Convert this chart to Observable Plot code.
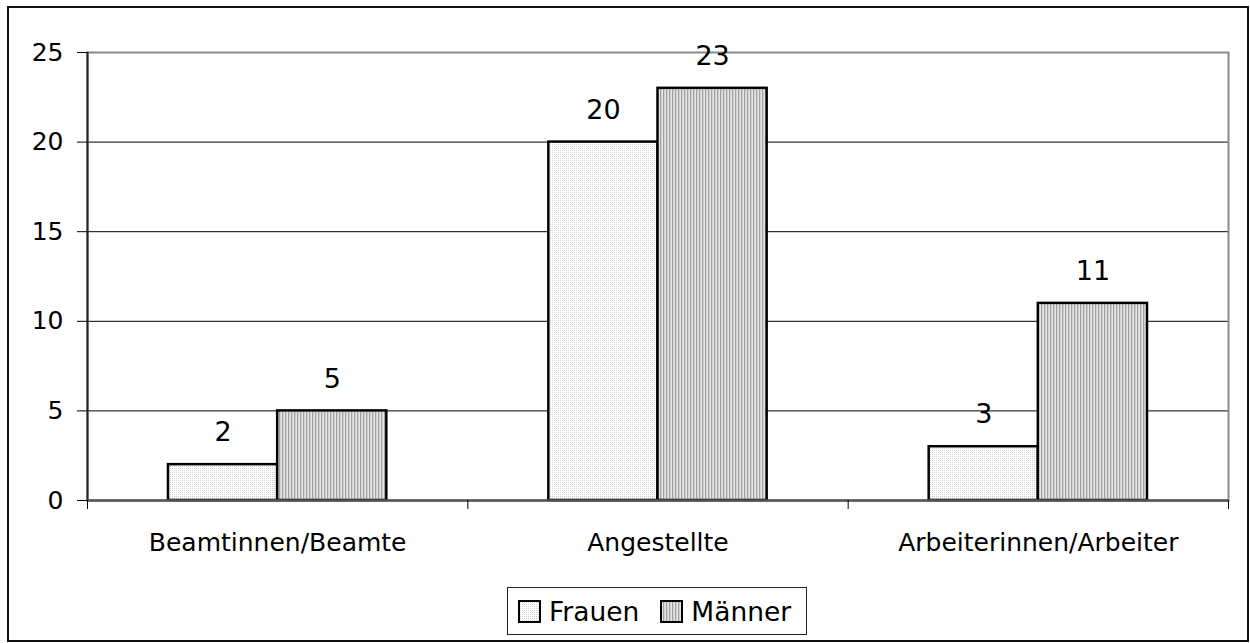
<!DOCTYPE html>
<html>
<head>
<meta charset="utf-8">
<script src="https://cdn.jsdelivr.net/npm/d3@7"></script>
<script src="https://cdn.jsdelivr.net/npm/@observablehq/plot@0.6"></script>
<style>
  html, body { margin: 0; padding: 0; background: #fff; }
  #chart { position: relative; width: 1250px; height: 643px; font-family: "DejaVu Sans", Verdana, sans-serif; color: #000; }
  #outer { position: absolute; left: 7px; top: 6px; width: 1242px; height: 636px; border: 2px solid #111; box-sizing: border-box; pointer-events: none; }
  #legend { position: absolute; left: 507px; top: 587px; width: 300px; height: 48px; border: 1.5px solid #222; box-sizing: border-box;
            display: flex; align-items: center; padding-left: 10px; font-size: 26.5px; background: #fff; }
  #legend .item { display: flex; align-items: center; }
  #legend .item + .item { margin-left: 21px; }
  #legend svg { margin-right: 8px; display: block; }
</style>
</head>
<body>
<svg width="0" height="0" style="position:absolute">
  <defs>
    <pattern id="pat-frauen" patternUnits="userSpaceOnUse" width="2" height="2">
      <rect width="2" height="2" fill="#ffffff"></rect>
      <rect width="1" height="1" fill="#d2d2d2"></rect>
    </pattern>
    <pattern id="pat-maenner" patternUnits="userSpaceOnUse" width="3" height="3">
      <rect width="3" height="3" fill="#e6e6e6"></rect>
      <rect width="1.3" height="3" fill="#a0a0a0"></rect>
    </pattern>
  </defs>
</svg>
<div id="chart"></div>
<script>
// Beschäftigte nach Dienstverhältnis und Geschlecht
const categories = ["Beamtinnen/Beamte", "Angestellte", "Arbeiterinnen/Arbeiter"];
const seriesNames = ["Frauen", "Männer"];
const frauen = [2, 20, 3];
const maenner = [5, 23, 11];
const yTicks = [0, 5, 10, 15, 20, 25];
const seriesFills = ["url(#pat-frauen)", "url(#pat-maenner)"];

// each category occupies one unit on x; the two bars sit side by side around its centre
const barWidth = 0.287;
const rows = [];
categories.forEach((cat, i) => {
  [frauen, maenner].forEach((values, s) => {
    const x1 = i + 0.5 + (s === 0 ? -barWidth : 0);
    rows.push({cat, series: seriesNames[s], s, value: values[i], x1, x2: x1 + barWidth, xc: x1 + barWidth / 2});
  });
});

const font = "DejaVu Sans";

const chart = Plot.plot({
  width: 1250,
  height: 643,
  marginTop: 52,
  marginLeft: 87,
  marginRight: 22,
  marginBottom: 143,
  style: {fontFamily: font, background: "transparent", color: "#000"},
  x: {type: "linear", domain: [0, categories.length], axis: null, label: null},
  y: {domain: [0, 25], axis: null, label: null},
  marks: [
    Plot.gridY([5, 10, 15, 20], {stroke: "#000", strokeOpacity: 1, strokeWidth: 1}),
    Plot.frame({stroke: "#8a8a8a", strokeWidth: 2}),
    ...seriesNames.map((name, s) =>
      Plot.rectY(rows.filter(d => d.s === s), {
        x1: "x1", x2: "x2", y1: 0, y2: "value",
        fill: seriesFills[s], stroke: "#000", strokeWidth: 2.5
      })
    ),
    Plot.ruleX([0], {stroke: "#222", strokeWidth: 2}),
    Plot.ruleY([0], {stroke: "#555", strokeWidth: 2.5}),
    Plot.axisY({ticks: yTicks, tickSize: 10, tickPadding: 14, fontSize: 25, anchor: "left", label: null,
                tickFormat: d => String(d)}),
    Plot.axisX({ticks: d3.range(categories.length + 1), tickSize: 9, tickFormat: () => "", anchor: "bottom", label: null}),
    Plot.axisX({ticks: categories.map((_, i) => i + 0.5), tickSize: 0, tickPadding: 33, fontSize: 25, anchor: "bottom",
                label: null, tickFormat: d => categories[Math.floor(d)]}),
    Plot.text(rows, {x: "xc", y: "value", text: d => String(d.value), dy: -32, lineAnchor: "middle",
                     fontSize: 27, fill: "#000"})
  ]
});

const root = document.getElementById("chart");
root.appendChild(chart);

const outer = document.createElement("div");
outer.id = "outer";
root.appendChild(outer);

// legend below the plot
const legend = document.createElement("div");
legend.id = "legend";
seriesNames.forEach((name, s) => {
  const item = document.createElement("div");
  item.className = "item";
  item.innerHTML = `<svg width="23" height="23"><rect x="1" y="1" width="21" height="21" fill="${seriesFills[s]}" stroke="#000" stroke-width="2"></rect></svg><span>${name}</span>`;
  legend.appendChild(item);
});
root.appendChild(legend);
</script>
</body>
</html>
